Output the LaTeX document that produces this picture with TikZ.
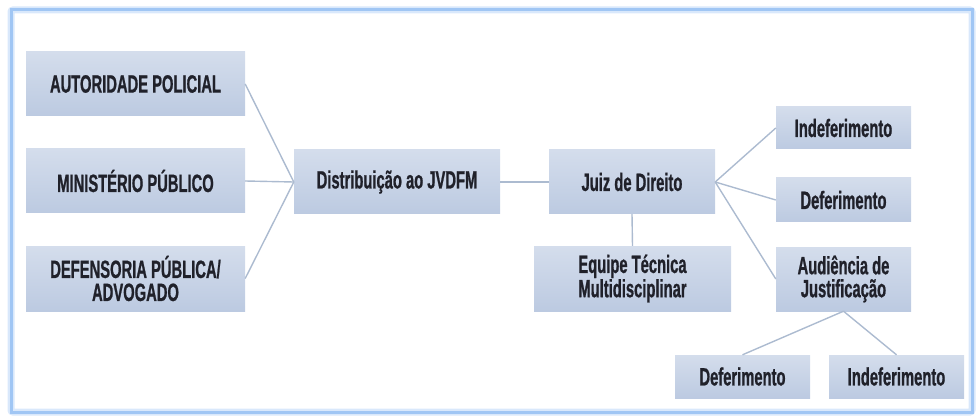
\documentclass[tikz,border=0pt]{standalone}
\usepackage{fontspec}
\setmainfont[FakeStretch=0.59,FakeBold=0.8]{Liberation Sans}
\usepackage{tikz}
\usetikzlibrary{positioning}
\definecolor{boxtop}{RGB}{212,221,236}
\definecolor{boxbot}{RGB}{188,202,225}
\definecolor{linkcol}{RGB}{172,187,208}
\definecolor{framecol}{RGB}{160,198,244}
\definecolor{txtcol}{RGB}{32,33,42}

\begin{document}
\begin{tikzpicture}[x=1pt,y=-1pt,
			every node/.style={inner sep=0pt, text=txtcol, font=\fontsize{25}{23}\selectfont\bfseries, align=center},
			box/.style={top color=boxtop, bottom color=boxbot, minimum width=#1},
			box/.default=219,
			link/.style={draw=linkcol, line width=1.4pt}]
		\useasboundingbox (0,0) rectangle (978,417);
		% outer frame
		\draw[framecol!40, line width=7pt, rounded corners=2pt] (11,10) rectangle (972,412);
		\draw[framecol, line width=3pt] (11,10) rectangle (972,412);

		\node[box, minimum height=64] (aut) at (135.5,84) {AUTORIDADE POLICIAL};
		\node[box, minimum height=64] (min) at (135.5,181) {MINISTÉRIO PÚBLICO};
		\node[box, minimum height=65] (def) at (135.5,278.5) {DEFENSORIA PÚBLICA/\\ADVOGADO};
		\node[box=206, minimum height=64] (dist) at (397,182) {Distribuição ao JVDFM};
		\node[box=166, minimum height=64] (juiz) at (632,182) {Juiz de Direito};
		\node[box=197, minimum height=65] (equipe) at (632.5,278.5) {Equipe Técnica\\Multidisciplinar};
		\node[box=135, minimum height=42] (indef1) at (843.5,128) {Indeferimento};
		\node[box=135, minimum height=44] (def1) at (843.5,200) {Deferimento};
		\node[box=135, minimum height=64] (aud) at (843.5,279) {Audiência de\\Justificação};
		\node[box=135, minimum height=43] (def2) at (742.5,376.5) {Deferimento};
		\node[box=135, minimum height=43] (indef2) at (896.5,376.5) {Indeferimento};

		\draw[link] (aut.east) -- (dist.west);
		\draw[link] (min.east) -- (dist.west);
		\draw[link] (def.east) -- (dist.west);
		\draw[link] (dist.east) -- (juiz.west);
		\draw[link] (juiz.south) -- (equipe.north);
		\draw[link] (juiz.east) -- (indef1.west);
		\draw[link] (juiz.east) -- (def1.west);
		\draw[link] (juiz.east) -- (aud.west);
		\draw[link] (aud.south) -- (def2.north);
		\draw[link] (aud.south) -- (indef2.north);
	\end{tikzpicture}
\end{document}
